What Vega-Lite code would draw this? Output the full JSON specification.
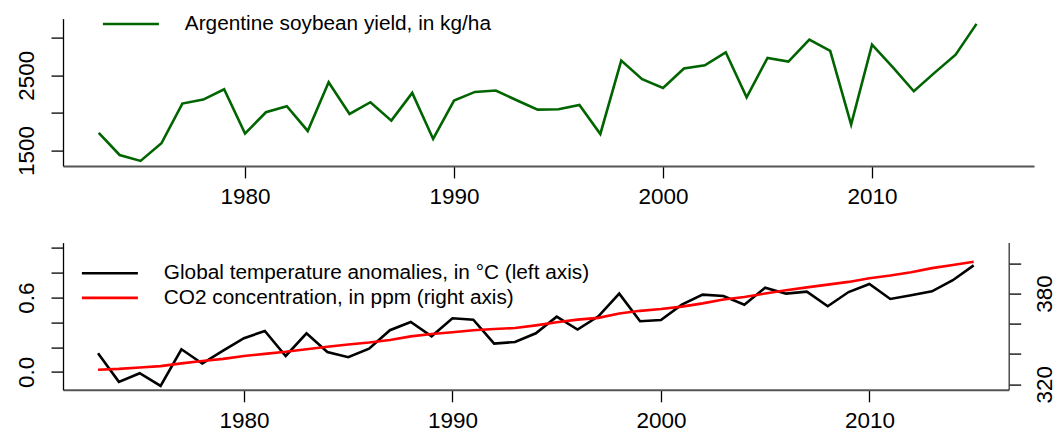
{
  "$schema": "https://vega.github.io/schema/vega-lite/v6.json",
  "background": "white",
  "padding": {"left": 15, "top": 13.6, "right": 0, "bottom": 0},
  "bounds": "flush",
  "spacing": 76,
  "config": {
    "font": "Liberation Sans",
    "view": {"stroke": null},
    "axis": {
      "grid": false,
      "labelFont": "Liberation Sans",
      "labelFontSize": 22.5,
      "labelColor": "black",
      "tickColor": "black",
      "tickSize": 12,
      "tickWidth": 1.3,
      "domainColor": "black",
      "domainWidth": 1.3
    },
    "axisX": {"domainColor": "#555555", "domainWidth": 2, "labelPadding": 8},
    "axisY": {"labelAngle": 270, "labelPadding": 12.7},
    "legend": {
      "orient": "none",
      "title": null,
      "padding": 0,
      "symbolType": "M-4,0H4",
      "symbolSize": 196,
      "symbolStrokeWidth": 2.6,
      "labelFont": "Liberation Sans",
      "labelFontSize": 20.8,
      "labelColor": "black",
      "labelOffset": 43.5,
      "rowPadding": 2.6,
      "labelLimit": 600
    }
  },
  "datasets": {
    "yield": [
      {"year": 1973, "yield": 1735}, {"year": 1974, "yield": 1442}, {"year": 1975, "yield": 1363},
      {"year": 1976, "yield": 1597}, {"year": 1977, "yield": 2124}, {"year": 1978, "yield": 2177},
      {"year": 1979, "yield": 2314}, {"year": 1980, "yield": 1726}, {"year": 1981, "yield": 2009},
      {"year": 1982, "yield": 2089}, {"year": 1983, "yield": 1761}, {"year": 1984, "yield": 2407},
      {"year": 1985, "yield": 1987}, {"year": 1986, "yield": 2142}, {"year": 1987, "yield": 1898},
      {"year": 1988, "yield": 2266}, {"year": 1989, "yield": 1655}, {"year": 1990, "yield": 2164},
      {"year": 1991, "yield": 2279}, {"year": 1992, "yield": 2297}, {"year": 1993, "yield": 2168},
      {"year": 1994, "yield": 2044}, {"year": 1995, "yield": 2049}, {"year": 1996, "yield": 2106},
      {"year": 1997, "yield": 1721}, {"year": 1998, "yield": 2695}, {"year": 1999, "yield": 2447},
      {"year": 2000, "yield": 2332}, {"year": 2001, "yield": 2589}, {"year": 2002, "yield": 2633},
      {"year": 2003, "yield": 2805}, {"year": 2004, "yield": 2208}, {"year": 2005, "yield": 2730},
      {"year": 2006, "yield": 2681}, {"year": 2007, "yield": 2974}, {"year": 2008, "yield": 2823},
      {"year": 2009, "yield": 1845}, {"year": 2010, "yield": 2907}, {"year": 2011, "yield": 2606},
      {"year": 2012, "yield": 2288}, {"year": 2013, "yield": 2535}, {"year": 2014, "yield": 2774},
      {"year": 2015, "yield": 3182}
    ],
    "climate": [
      {"year": 1973, "temp": 0.151, "co2": 329.68}, {"year": 1974, "temp": -0.08, "co2": 330.19},
      {"year": 1975, "temp": -0.01, "co2": 331.12}, {"year": 1976, "temp": -0.113, "co2": 332.03},
      {"year": 1977, "temp": 0.183, "co2": 333.84}, {"year": 1978, "temp": 0.068, "co2": 335.41},
      {"year": 1979, "temp": 0.172, "co2": 336.84}, {"year": 1980, "temp": 0.272, "co2": 338.76},
      {"year": 1981, "temp": 0.331, "co2": 340.12}, {"year": 1982, "temp": 0.129, "co2": 341.48},
      {"year": 1983, "temp": 0.312, "co2": 343.15}, {"year": 1984, "temp": 0.161, "co2": 344.87},
      {"year": 1985, "temp": 0.119, "co2": 346.35}, {"year": 1986, "temp": 0.188, "co2": 347.61},
      {"year": 1987, "temp": 0.337, "co2": 349.31}, {"year": 1988, "temp": 0.403, "co2": 351.69},
      {"year": 1989, "temp": 0.288, "co2": 353.2}, {"year": 1990, "temp": 0.433, "co2": 354.45},
      {"year": 1991, "temp": 0.422, "co2": 355.7}, {"year": 1992, "temp": 0.229, "co2": 356.54},
      {"year": 1993, "temp": 0.242, "co2": 357.21}, {"year": 1994, "temp": 0.312, "co2": 358.96},
      {"year": 1995, "temp": 0.446, "co2": 360.97}, {"year": 1996, "temp": 0.342, "co2": 362.74},
      {"year": 1997, "temp": 0.449, "co2": 363.88}, {"year": 1998, "temp": 0.632, "co2": 366.84},
      {"year": 1999, "temp": 0.409, "co2": 368.54}, {"year": 2000, "temp": 0.419, "co2": 369.71},
      {"year": 2001, "temp": 0.543, "co2": 371.32}, {"year": 2002, "temp": 0.624, "co2": 373.45},
      {"year": 2003, "temp": 0.613, "co2": 375.98}, {"year": 2004, "temp": 0.543, "co2": 377.7},
      {"year": 2005, "temp": 0.68, "co2": 379.98}, {"year": 2006, "temp": 0.632, "co2": 382.09},
      {"year": 2007, "temp": 0.648, "co2": 384.02}, {"year": 2008, "temp": 0.53, "co2": 385.83},
      {"year": 2009, "temp": 0.645, "co2": 387.64}, {"year": 2010, "temp": 0.71, "co2": 390.1},
      {"year": 2011, "temp": 0.589, "co2": 391.85}, {"year": 2012, "temp": 0.619, "co2": 394.06},
      {"year": 2013, "temp": 0.651, "co2": 396.74}, {"year": 2014, "temp": 0.74, "co2": 398.81},
      {"year": 2015, "temp": 0.86, "co2": 401.01}
    ]
  },
  "resolve": {
    "scale": {"x": "independent", "y": "independent", "color": "independent"},
    "legend": {"color": "independent"}
  },
  "vconcat": [
    {
      "width": 971,
      "height": 147.3,
      "data": {"name": "yield"},
      "mark": {"type": "line", "strokeWidth": 2.6, "strokeJoin": "miter"},
      "encoding": {
        "x": {
          "field": "year", "type": "quantitative", "title": null,
          "scale": {"domain": [1971.29, 2017.75], "nice": false, "zero": false},
          "axis": {"values": [1980, 1990, 2000, 2010], "format": "d"}
        },
        "y": {
          "field": "yield", "type": "quantitative", "title": null,
          "scale": {"domain": [1297, 3252], "nice": false, "zero": false},
          "axis": {
            "values": [1500, 2000, 2500, 3000],
            "labelExpr": "datum.value == 1500 || datum.value == 2500 ? datum.label : ''",
            "format": "d"
          }
        },
        "color": {
          "datum": "Argentine soybean yield, in kg/ha",
          "type": "nominal",
          "scale": {"domain": ["Argentine soybean yield, in kg/ha"], "range": ["#006400"]},
          "legend": {"legendX": 57.5, "legendY": -5}
        }
      }
    },
    {
      "width": 945.7,
      "height": 147.2,
      "data": {"name": "climate"},
      "resolve": {"scale": {"y": "independent"}},
      "encoding": {
        "x": {
          "field": "year", "type": "quantitative", "title": null,
          "scale": {"domain": [1971.32, 2016.68], "nice": false, "zero": false},
          "axis": {"values": [1980, 1990, 2000, 2010], "format": "d"}
        }
      },
      "layer": [
        {
          "mark": {"type": "line", "strokeWidth": 2.6, "strokeJoin": "miter"},
          "encoding": {
            "y": {
              "field": "temp", "type": "quantitative", "title": null,
              "scale": {"domain": [-0.144, 1.044], "nice": false, "zero": false},
              "axis": {
                "orient": "left",
                "values": [0, 0.2, 0.4, 0.6, 0.8, 1.0],
                "format": ".1f",
                "labelExpr": "datum.value == 0 || abs(datum.value - 0.6) < 0.001 ? datum.label : ''"
              }
            },
            "color": {
              "datum": "Global temperature anomalies, in °C (left axis)",
              "type": "nominal",
              "scale": {
                "domain": ["Global temperature anomalies, in °C (left axis)", "CO2 concentration, in ppm (right axis)"],
                "range": ["#000000", "#FF0000"]
              },
              "legend": {"legendX": 36.5, "legendY": 20.3}
            }
          }
        },
        {
          "mark": {"type": "line", "strokeWidth": 2.6, "strokeJoin": "miter"},
          "encoding": {
            "y": {
              "field": "co2", "type": "quantitative", "title": null,
              "scale": {"domain": [316.4, 413.6], "nice": false, "zero": false},
              "axis": {
                "orient": "right",
                "values": [320, 340, 360, 380, 400],
                "format": "d",
                "domainColor": "#333333",
                "labelExpr": "datum.value == 320 || datum.value == 380 ? datum.label : ''"
              }
            },
            "color": {
              "datum": "CO2 concentration, in ppm (right axis)",
              "type": "nominal"
            }
          }
        }
      ]
    }
  ]
}
